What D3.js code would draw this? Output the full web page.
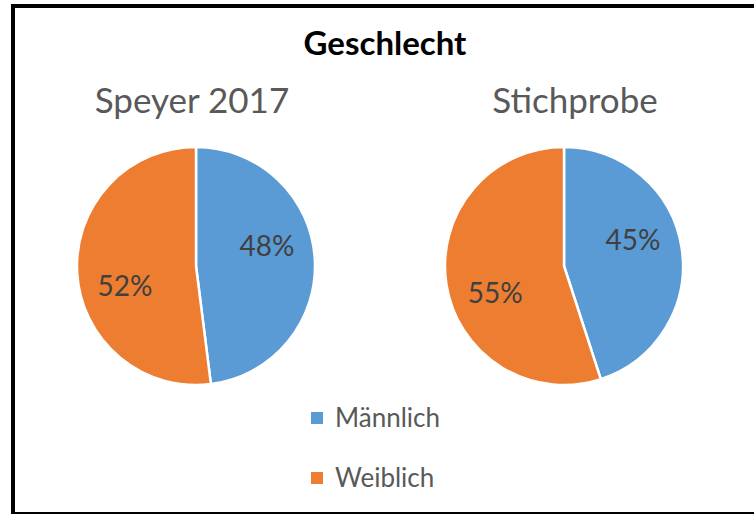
<!DOCTYPE html>
<html>
<head>
<meta charset="utf-8">
<script src="https://cdn.jsdelivr.net/npm/d3@7"></script>
<style>
  html, body { margin: 0; padding: 0; background: #fff; }
  svg { display: block; font-family: Lato, "Open Sans", sans-serif; }
</style>
</head>
<body>
<svg id="chart"></svg>
<script>
const title = 'Geschlecht';
const categories = ['Männlich', 'Weiblich'];
const pieTitles = ['Speyer 2017', 'Stichprobe'];
const speyerValues = [48, 52];
const stichprobeValues = [45, 55];
const colors = ['#5b9bd5', '#ed7d31'];

const width = 754;
const height = 514;

const svg = d3.select('#chart')
  .attr('width', width)
  .attr('height', height)
  .attr('viewBox', [0, 0, width, height]);

// frame of the chart area (right and bottom run off the screenshot)
svg.append('rect')
  .attr('x', 13)
  .attr('y', 6)
  .attr('width', 770)
  .attr('height', 530)
  .attr('fill', '#fff')
  .attr('stroke', '#000')
  .attr('stroke-width', 4);

svg.append('line')
  .attr('x1', 11).attr('x2', width)
  .attr('y1', 513).attr('y2', 513)
  .attr('stroke', '#000')
  .attr('stroke-width', 2);

svg.append('text')
  .attr('x', 385)
  .attr('y', 55)
  .attr('text-anchor', 'middle')
  .attr('font-weight', 'bold')
  .attr('font-size', 33)
  .attr('fill', '#000')
  .text(title);

const color = d3.scaleOrdinal().domain(categories).range(colors);

// pie centres along x
const x = d3.scalePoint().domain(pieTitles).range([196, 564]);
const cy = 266;
const radius = 119;

const pie = d3.pie().sort(null).value(d => d.value);
const arc = d3.arc().innerRadius(0).outerRadius(radius);
// Excel-like label spot: a bit counter-clockwise of the mid angle
const labelShift = -12 * Math.PI / 180;
const labelArc = d3.arc().innerRadius(radius * 0.62).outerRadius(radius * 0.62);

const series = [speyerValues, stichprobeValues];
const titleX = [192, 575];

pieTitles.forEach((name, i) => {
  const data = categories.map((c, j) => ({ name: c, value: series[i][j] }));
  const g = svg.append('g')
    .attr('transform', `translate(${x(name)},${cy})`);

  g.selectAll('path')
    .data(pie(data))
    .join('path')
    .attr('d', arc)
    .attr('fill', d => color(d.data.name))
    .attr('stroke', '#fff')
    .attr('stroke-width', 2.5)
    .attr('stroke-linejoin', 'round');

  g.selectAll('text')
    .data(pie(data))
    .join('text')
    .attr('transform', d => {
      const s = { startAngle: d.startAngle + labelShift, endAngle: d.endAngle + labelShift };
      return `translate(${labelArc.centroid(s)})`;
    })
    .attr('text-anchor', 'middle')
    .attr('dy', '0.36em')
    .attr('font-size', 28)
    .attr('fill', '#404040')
    .text(d => d.data.value + '%');

  svg.append('text')
    .attr('x', titleX[i])
    .attr('y', 113)
    .attr('text-anchor', 'middle')
    .attr('font-size', 35)
    .attr('fill', '#595959')
    .text(name);
});

// legend
const legendY = d3.scalePoint().domain(categories).range([418, 478]);
const legend = svg.append('g')
  .selectAll('g')
  .data(categories)
  .join('g')
  .attr('transform', d => `translate(311,${legendY(d)})`);

legend.append('rect')
  .attr('x', 0)
  .attr('y', -6)
  .attr('width', 12)
  .attr('height', 12)
  .attr('fill', d => color(d));

legend.append('text')
  .attr('x', 24)
  .attr('dy', '0.36em')
  .attr('font-size', 26)
  .attr('fill', '#595959')
  .text(d => d);
</script>
</body>
</html>
